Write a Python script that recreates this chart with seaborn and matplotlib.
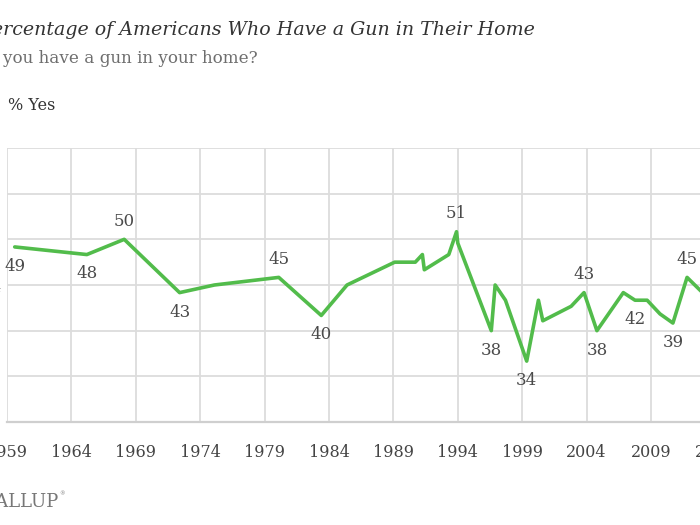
import matplotlib
matplotlib.use("Agg")
import matplotlib.pyplot as plt
import seaborn as sns
import pandas as pd

# % Yes (year as decimal)
years = [1959.6, 1965.2, 1968.1, 1972.4, 1975.1, 1980.1, 1983.4, 1985.4,
         1989.1, 1990.7, 1991.25, 1991.4, 1993.3, 1993.9, 1994.0,
         1996.6, 1996.9, 1997.7, 1999.35, 2000.26, 2000.6, 2002.8, 2003.8,
         2004.8, 2006.85, 2007.76, 2008.7, 2009.7, 2010.7, 2011.8, 2013.0]
pct_yes = [49, 48, 50, 43, 44, 45, 40, 44,
           47, 47, 48, 46, 48, 51, 49.5,
           38, 44, 42, 34, 42, 39.3, 41.2, 43,
           38, 43, 42, 42, 40.2, 39, 45, 43]

# which points carry a value label, and whether it sits above or below
label_idx = [0, 1, 2, 3, 5, 6, 13, 15, 18, 22, 23, 25, 28, 29]
label_pos = ["below", "below", "above", "below", "above", "below", "above",
             "below", "below", "above", "below", "below", "below", "above"]

x_ticks = list(range(1959, 2015, 5))
y_ticks = list(range(26, 63, 6))

df = pd.DataFrame({"year": years, "pct": pct_yes})

sns.set_style("white")
plt.rcParams["font.family"] = ["DejaVu Serif"]

fig = plt.figure(figsize=(7, 5.25), dpi=100)
W, H = 700, 525
# plot area: left edge at 1959 (x=7px), bottom at y=422px, top at y=148px
ax = fig.add_axes([7 / W, (H - 422) / H, (2014.5 - 1959) * 12.88 / W, 274 / H])

sns.lineplot(data=df, x="year", y="pct", ax=ax, color="#52bc4b",
             linewidth=2.6, estimator=None, sort=True)

for i, pos in zip(label_idx, label_pos):
    dy = 13 if pos == "above" else -14
    ax.annotate(f"{pct_yes[i]:.0f}", xy=(years[i], pct_yes[i]),
                xytext=(0, dy), textcoords="offset points",
                ha="center", va="center", fontsize=12, color="#4a4a4a")

ax.set_xlim(1959, 2014.5)
ax.set_ylim(26, 62)
ax.set_xticks(x_ticks)
ax.set_yticks(y_ticks)
ax.set_xlabel("")
ax.set_ylabel("")
ax.grid(True, color="#dcdcdc", linewidth=1.3)
ax.set_axisbelow(True)
for s in ["top", "left", "right"]:
    ax.spines[s].set_visible(False)
ax.spines["bottom"].set_color("#cfcfcf")
ax.spines["bottom"].set_linewidth(1.6)
ax.tick_params(axis="x", length=0, pad=16, labelsize=11.5, labelcolor="#444444")
ax.tick_params(axis="y", length=0, pad=4, labelsize=11.5, labelcolor="#666666")

fig.text(535 / W, 1 - 35 / H, "Percentage of Americans Who Have a Gun in Their Home",
         ha="right", va="baseline", fontsize=13.7, style="italic", color="#333333")
fig.text(258 / W, 1 - 63 / H, "Do you have a gun in your home?",
         ha="right", va="baseline", fontsize=12.1, color="#6e6e6e")
fig.text(8 / W, 1 - 110.5 / H, "% Yes",
         ha="left", va="baseline", fontsize=11.5, color="#333333")
fig.text(58 / W, 1 - 507 / H, "GALLUP",
         ha="right", va="baseline", fontsize=13, color="#777777")
fig.text(59 / W, 1 - 495 / H, "\u00ae",
         ha="left", va="baseline", fontsize=4, color="#777777")

fig.savefig("out.png", dpi=100)
